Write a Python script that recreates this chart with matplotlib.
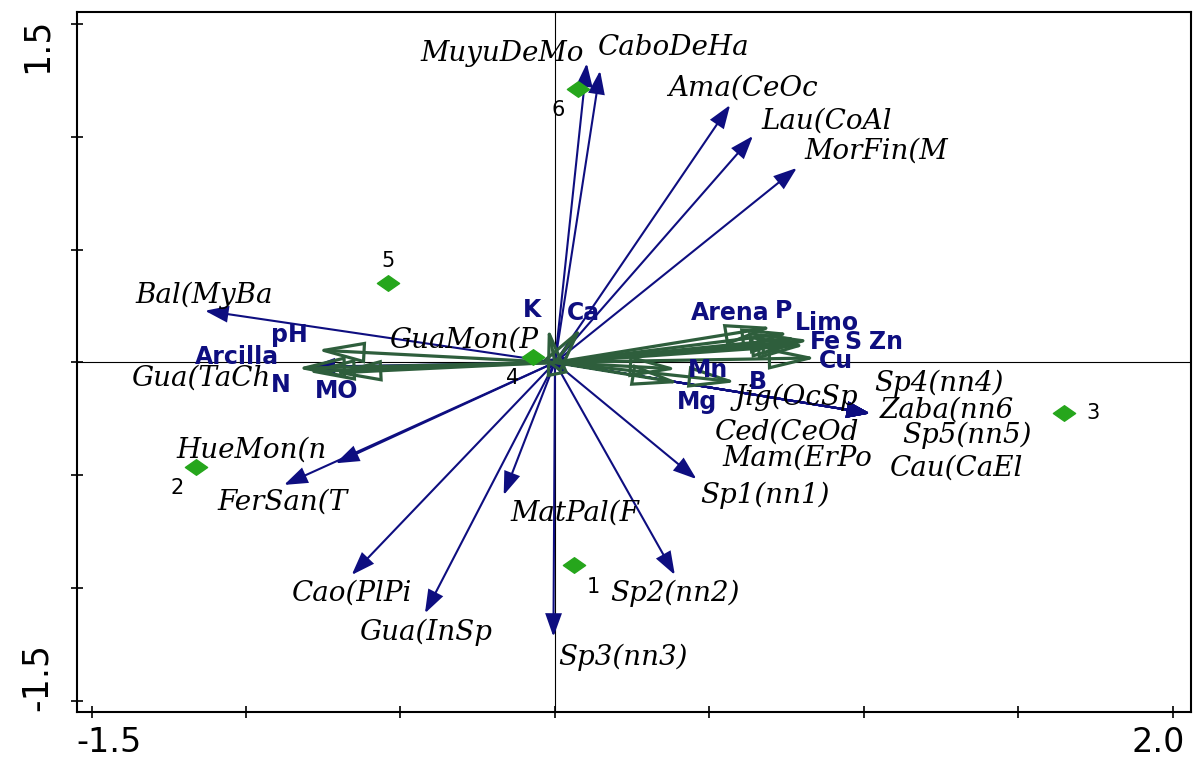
import matplotlib
matplotlib.use("Agg")
import matplotlib.pyplot as plt
from matplotlib.path import Path

# species scores (arrow tips)
sp_names = ["MuyuDeMo", "CaboDeHa", "Ama(CeOc", "Lau(CoAl", "MorFin(M", "Bal(MyBa",
            "GuaMon(P", "Gua(TaCh", "HueMon(n", "FerSan(T", "MatPal(F", "Cao(PlPi",
            "Gua(InSp", "Sp3(nn3)", "Sp2(nn2)", "Sp1(nn1)", "Jig(OcSp", "Sp4(nn4)",
            "Zaba(nn6", "Ced(CeOd", "Sp5(nn5)", "Mam(ErPo", "Cau(CaEl"]
sp_x = [0.103, 0.146, 0.567, 0.641, 0.783, -1.133, -0.04, -0.788, -0.710, -0.877,
        -0.166, -0.658, -0.421, -0.005, 0.388, 0.458, 1.020, 1.020, 1.020, 1.020,
        1.020, 1.020, 1.020]
sp_y = [1.326, 1.293, 1.141, 1.004, 0.862, 0.229, 0.012, -0.019, -0.447, -0.543,
        -0.588, -0.942, -1.112, -1.216, -0.942, -0.517, -0.226, -0.226, -0.226,
        -0.226, -0.226, -0.226, -0.226]

# environmental variables (arrow tips)
env_names = ["Arena", "P", "Limo", "Fe", "S", "Zn", "Cu", "Mn", "B", "Mg",
             "pH", "Arcilla", "N", "MO", "K", "Ca"]
env_x = [0.706, 0.761, 0.787, 0.793, 0.813, 0.826, 0.848, 0.398, 0.589, 0.405,
         -0.772, -0.836, -0.804, -0.718, -0.023, 0.087]
env_y = [0.157, 0.130, 0.108, 0.086, 0.077, 0.099, 0.020, -0.029, -0.087, -0.091,
         0.055, -0.026, -0.041, -0.047, 0.157, 0.157]

# samples
samp_names = ["1", "2", "3", "4", "5", "6"]
samp_x = [0.062, -1.161, 1.649, -0.071, -0.541, 0.075]
samp_y = [-0.898, -0.462, -0.224, 0.023, 0.353, 1.211]

# label placement (layout only)
sp_lab = [(-0.170, 1.371), (0.385, 1.394), (0.609, 1.216), (0.881, 1.070), (1.039, 0.937),
          (-1.135, 0.299), (-0.296, 0.099), (-1.144, -0.069), (-0.981, -0.388),
          (-0.881, -0.619), (0.065, -0.668), (-0.656, -1.023), (-0.418, -1.195),
          (0.219, -1.306), (0.387, -1.022), (0.680, -0.588), (0.782, -0.153),
          (1.243, -0.091), (1.269, -0.211), (0.753, -0.308), (1.334, -0.322),
          (0.783, -0.424), (1.300, -0.468)]
env_lab = [(0.567, 0.219), (0.741, 0.228), (0.881, 0.175), (0.877, 0.092), (0.963, 0.092),
           (1.070, 0.092), (0.911, 0.006), (0.494, -0.034), (0.656, -0.087),
           (0.461, -0.175), (-0.861, 0.121), (-1.028, 0.024), (-0.887, -0.100),
           (-0.707, -0.127), (-0.075, 0.232), (0.092, 0.219)]
samp_lab = [(0.123, -0.996), (-1.224, -0.557), (1.742, -0.224), (-0.136, -0.069),
            (-0.541, 0.449), (0.010, 1.119)]

navy = "#0e0e80"
green = "#2e5e3c"
dgreen = "#26a61c"

fig = plt.figure(figsize=(11.97, 7.61), dpi=100)
ax = fig.add_axes([0.0641, 0.0648, 0.9307, 0.9194])
ax.set_xlim(-1.548, 2.058)
ax.set_ylim(-1.548, 1.553)

ax.axhline(0, color="black", lw=0.8, zorder=1)
ax.axvline(0, color="black", lw=0.8, zorder=1)

# species arrows
for x, y in zip(sp_x, sp_y):
    ax.annotate("", xy=(x, y), xytext=(0, 0),
                arrowprops=dict(arrowstyle="-|>,head_length=1.4,head_width=0.5",
                                mutation_scale=10, color=navy, lw=1.5,
                                shrinkA=0, shrinkB=0, joinstyle="miter"),
                zorder=3)

# environmental arrows, hollow heads
for x, y in zip(env_x, env_y):
    ax.annotate("", xy=(x, y), xytext=(0, 0),
                arrowprops=dict(arrowstyle="-|>,head_length=2.9,head_width=0.65",
                                mutation_scale=10, edgecolor=green, facecolor="none",
                                lw=2.3, shrinkA=0, shrinkB=0, joinstyle="miter"),
                zorder=4)

# sample diamonds
diamond = Path([(-1, 0), (0, 0.7), (1, 0), (0, -0.7), (-1, 0)],
               [Path.MOVETO, Path.LINETO, Path.LINETO, Path.LINETO, Path.CLOSEPOLY])
ax.plot(samp_x, samp_y, linestyle="none", marker=diamond, markersize=16,
        color=dgreen, zorder=5)

for name, (lx, ly) in zip(sp_names, sp_lab):
    ax.text(lx, ly, name, family="DejaVu Serif", style="italic", fontsize=20,
            ha="center", va="center", color="black", zorder=6)

for name, (lx, ly) in zip(env_names, env_lab):
    ax.text(lx, ly, name, family="DejaVu Sans", weight="bold", fontsize=17,
            ha="center", va="center", color=navy, zorder=6)

for name, (lx, ly) in zip(samp_names, samp_lab):
    ax.text(lx, ly, name, family="DejaVu Sans", fontsize=15,
            ha="center", va="center", color="black", zorder=6)

# axes frame and ticks
for s in ax.spines.values():
    s.set_linewidth(1.5)
ax.set_xticks([-1.5, -1.0, -0.5, 0.0, 0.5, 1.0, 1.5, 2.0])
ax.set_yticks([-1.5, -1.0, -0.5, 0.0, 0.5, 1.0, 1.5])
ax.tick_params(direction="inout", length=9, width=1.2,
               labelbottom=False, labelleft=False)

xt = ax.get_xaxis_transform()
yt = ax.get_yaxis_transform()
ax.text(-1.548, -0.0676, "-1.5", transform=xt, ha="left", va="bottom",
        fontsize=24, family="DejaVu Sans", clip_on=False)
ax.text(2.04, -0.0676, "2.0", transform=xt, ha="right", va="bottom",
        fontsize=24, family="DejaVu Sans", clip_on=False)
ax.text(-0.036, 1.53, "1.5", transform=yt, ha="center", va="top", rotation=90,
        fontsize=25, family="DejaVu Sans", clip_on=False)
ax.text(-0.036, -1.545, "-1.5", transform=yt, ha="center", va="bottom", rotation=90,
        fontsize=25, family="DejaVu Sans", clip_on=False)

fig.savefig("out.png", dpi=100)
